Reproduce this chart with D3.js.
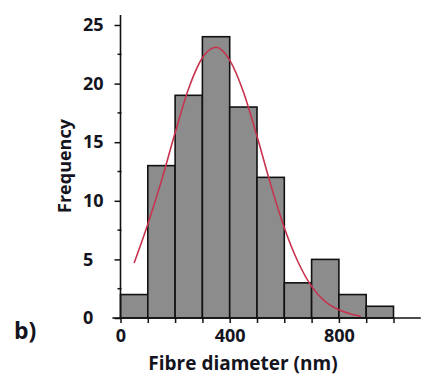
<!DOCTYPE html>
<html>
<head>
<meta charset="utf-8">
<script src="https://cdn.jsdelivr.net/npm/d3@7"></script>
<style>
  html, body { margin: 0; padding: 0; background: #fff; }
  svg { display: block; }
  text { font-family: "Open Sans", sans-serif; font-weight: 700; fill: #14141e; }
</style>
</head>
<body>
<svg id="chart" width="425" height="376"></svg>
<script>
// Histogram bins (nm) and counts
const binStarts = [0, 100, 200, 300, 400, 500, 600, 700, 800, 900];
const binWidth = 100;
const counts = [2, 13, 19, 24, 18, 12, 3, 5, 2, 1];
// Fitted distribution curve
const curveX = [50, 100, 150, 200, 250, 300, 350, 400, 450, 500, 550, 600, 650, 700, 750, 800, 850, 880];
const curveY = [4.7, 8.0, 11.7, 15.8, 19.6, 22.2, 23.1, 22.0, 19.3, 15.5, 11.4, 7.7, 4.8, 2.7, 1.4, 0.7, 0.3, 0.15];
// Tick labels
const xTickLabels = [0, 400, 800];
const xTicksAll = [0, 100, 200, 300, 400, 500, 600, 700, 800, 900, 1000];
const yTickLabels = [0, 5, 10, 15, 20, 25];
const yMinorTicks = [2.5, 7.5, 12.5, 17.5, 22.5];
const xTitle = "Fibre diameter (nm)";
const yTitle = "Frequency";
const panelLabel = "b)";

const svg = d3.select("#chart");
const x = d3.scaleLinear().domain([0, 1100]).range([120.5, 420.8]);
const y = d3.scaleLinear().domain([0, 25]).range([318, 25]);

// Bars
svg.append("g").selectAll("rect").data(binStarts).join("rect")
  .attr("x", d => x(d))
  .attr("y", (d, i) => y(counts[i]))
  .attr("width", d => x(d + binWidth) - x(d))
  .attr("height", (d, i) => y(0) - y(counts[i]))
  .attr("fill", "#8c8c8c")
  .attr("stroke", "#111")
  .attr("stroke-width", 1.6);

// Curve
const line = d3.line().x(d => x(d[0])).y(d => y(d[1])).curve(d3.curveMonotoneX);
svg.append("path")
  .datum(curveX.map((v, i) => [v, curveY[i]]))
  .attr("d", line)
  .attr("fill", "none")
  .attr("stroke", "#c8324e")
  .attr("stroke-width", 1.6);

// X axis
const xAxis = d3.axisBottom(x).tickValues(xTicksAll).tickSize(5)
  .tickFormat(d => xTickLabels.includes(d) ? d : "");
const gx = svg.append("g").attr("transform", `translate(0,${y(0)})`).call(xAxis);
gx.select(".domain").remove();
gx.append("line").attr("x1", x(-30)).attr("x2", x(1100)).attr("y1", 0).attr("y2", 0)
  .attr("stroke", "#111").attr("stroke-width", 1.6);
gx.selectAll(".tick line").attr("stroke", "#111").attr("stroke-width", 1.5);
gx.selectAll(".tick text").attr("font-size", 18).attr("dy", "0.9em").attr("fill", "#14141e");

// Y axis
const yAxis = d3.axisLeft(y).tickValues(yTickLabels).tickSize(6);
const gy = svg.append("g").attr("transform", `translate(${x(0)},0)`).call(yAxis);
gy.select(".domain").remove();
gy.append("line").attr("x1", 0).attr("x2", 0).attr("y1", y(0)).attr("y2", y(25.85))
  .attr("stroke", "#111").attr("stroke-width", 1.6);
gy.selectAll(".tick line").attr("stroke", "#111").attr("stroke-width", 1.5);
gy.selectAll(".tick text").attr("font-size", 18).attr("fill", "#14141e")
  .attr("text-anchor", "start").attr("x", 83 - x(0));
gy.selectAll(".minor").data(yMinorTicks).join("line").attr("class", "minor")
  .attr("x1", -3).attr("x2", 1).attr("y1", d => y(d)).attr("y2", d => y(d))
  .attr("stroke", "#111").attr("stroke-width", 1.5);

// Titles
svg.append("text").attr("x", 243).attr("y", 370).attr("text-anchor", "middle")
  .attr("font-size", 19).text(xTitle);
svg.append("text").attr("transform", "translate(71,166) rotate(-90)")
  .attr("text-anchor", "middle").attr("font-size", 18).text(yTitle);
svg.append("text").attr("x", 14).attr("y", 339).attr("font-size", 23).text(panelLabel);
</script>
</body>
</html>
